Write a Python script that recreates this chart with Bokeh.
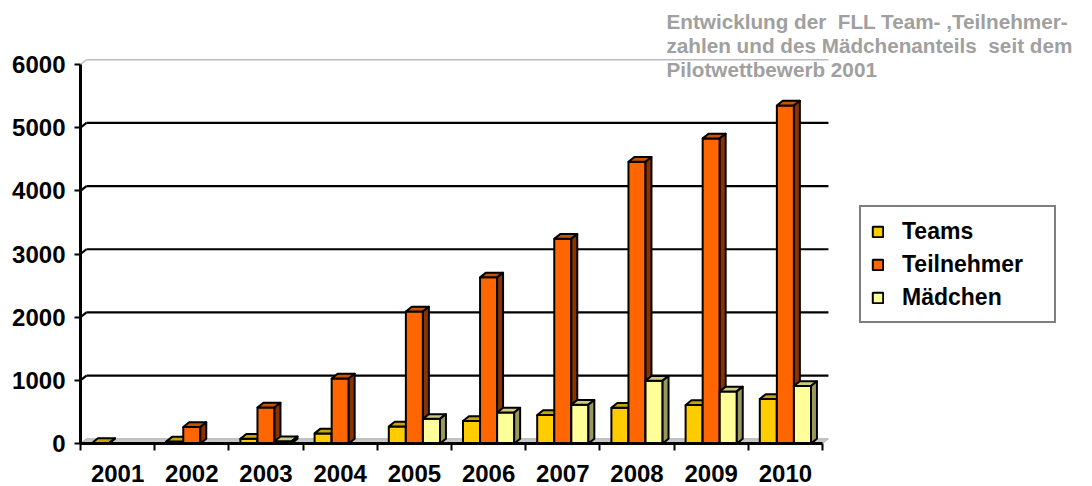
from bokeh.plotting import figure
from bokeh.models import Range1d, FixedTicker, Legend, LegendItem, Label
from bokeh.embed import file_html
from bokeh.resources import INLINE

# ---------------- data ----------------
years = ["2001", "2002", "2003", "2004", "2005", "2006", "2007", "2008", "2009", "2010"]
teams = [8, 30, 75, 160, 270, 355, 450, 565, 610, 705]
teilnehmer = [None, 260, 570, 1030, 2090, 2630, 3240, 4460, 4830, 5350]
maedchen = [None, None, 35, None, 390, 490, 615, 995, 825, 910]
series_names = ["Teams", "Teilnehmer", "Mädchen"]
y_ticks = [0, 1000, 2000, 3000, 4000, 5000, 6000]
title_lines = ["Entwicklung der \u00a0FLL Team- ,Teilnehmer-",
               "zahlen und des Mädchenanteils \u00a0seit dem",
               "Pilotwettbewerb 2001"]

# ---------------- styles ----------------
front_colors = ["#FFCC00", "#FF6600", "#FFFF99"]
top_colors = ["#CCA300", "#CC5200", "#CCCC7A"]
side_colors = ["#997A00", "#8A3300", "#99995C"]
FONT = "Liberation Sans"
BAR_W = 0.23
DX, DY = 0.08, 75.0   # pseudo-3D depth offsets (data units)

W, H = 1092, 486
LEFT, BOTTOM = 80, 43
PX_PER_CAT = 74.2
PX_PER_VAL = 379.0 / 6000.0

n = len(years)
p = figure(width=W, height=H, output_backend="svg", toolbar_location=None,
           x_range=Range1d(0, (W - LEFT) / PX_PER_CAT),
           y_range=Range1d(0, (H - BOTTOM) / PX_PER_VAL),
           min_border_left=LEFT, min_border_right=0, min_border_top=0, min_border_bottom=BOTTOM)
p.outline_line_color = None
p.grid.visible = False
p.background_fill_color = "white"
p.border_fill_color = "white"

# floor band
p.patch([0, n, n + DX, DX], [0, 0, DY, DY], fill_color="#C8C8C8", line_color="#B0B0B0", line_width=1)

# gridlines on back wall (with small diagonals to the axis)
for v in y_ticks[1:]:
    col = "#BBBBBB" if v == y_ticks[-1] else "black"
    lw = 1.5 if v == y_ticks[-1] else 2.2
    p.segment(x0=[0, DX], y0=[v, v + DY], x1=[DX, n + DX], y1=[v + DY, v + DY],
              line_color=col, line_width=lw)

# bars
series_vals = [teams, teilnehmer, maedchen]
legend_items = []
for s, vals in enumerate(series_vals):
    lefts, rights, tops = [], [], []
    for i, v in enumerate(vals):
        if v is None:
            continue
        c = i + 0.5
        l = c - 1.5 * BAR_W + s * BAR_W
        lefts.append(l)
        rights.append(l + BAR_W)
        tops.append(v)
    front = p.quad(left=lefts, right=rights, bottom=0, top=tops,
                   fill_color=front_colors[s], line_color="black", line_width=2)
    top_xs = [[l, r, r + DX, l + DX] for l, r in zip(lefts, rights)]
    top_ys = [[t, t, t + DY, t + DY] for t in tops]
    p.patches(top_xs, top_ys, fill_color=top_colors[s], line_color="black", line_width=2,
              line_join="round")
    side_xs = [[r, r + DX, r + DX, r] for r in rights]
    side_ys = [[0, DY, t + DY, t] for t in tops]
    p.patches(side_xs, side_ys, fill_color=side_colors[s], line_color="black", line_width=2,
              line_join="round")
    legend_items.append(LegendItem(label=series_names[s], renderers=[front]))

# axes
xa = p.xaxis[0]
xa.bounds = (0, n)
xa.ticker = FixedTicker(ticks=[i + 0.5 for i in range(n)], minor_ticks=list(range(n + 1)))
xa.major_label_overrides = {i + 0.5: y for i, y in enumerate(years)}
xa.axis_line_width = 3
xa.axis_line_color = "black"
xa.major_tick_line_color = None
xa.major_tick_out = 0
xa.major_tick_in = 0
xa.minor_tick_out = 7
xa.minor_tick_in = 0
xa.minor_tick_line_width = 2
xa.minor_tick_line_color = "black"
xa.major_label_text_font = FONT
xa.major_label_text_font_size = "24px"
xa.major_label_text_font_style = "bold"
xa.major_label_text_color = "black"
xa.major_label_standoff = 14

ya = p.yaxis[0]
ya.bounds = (0, 6000)
ya.ticker = FixedTicker(ticks=y_ticks, minor_ticks=[])
ya.axis_line_width = 3
ya.axis_line_color = "black"
ya.major_tick_out = 6
ya.major_tick_in = 0
ya.major_tick_line_width = 2
ya.major_tick_line_color = "black"
ya.minor_tick_line_color = None
ya.major_label_text_font = FONT
ya.major_label_text_font_size = "24px"
ya.major_label_text_font_style = "bold"
ya.major_label_text_color = "black"
ya.major_label_standoff = 9

# legend
legend = Legend(items=legend_items, location=(779, 120))
legend.border_line_color = "black"
legend.border_line_width = 2
legend.background_fill_color = "white"
legend.background_fill_alpha = 1
legend.label_text_font = FONT
legend.label_text_font_size = "23px"
legend.label_text_font_style = "bold"
legend.label_text_color = "black"
legend.glyph_width = 13
legend.glyph_height = 13
legend.label_standoff = 18
legend.label_width = 142
legend.label_height = 28
legend.padding = 10
legend.spacing = 5
legend.margin = 0
p.add_layout(legend)

# title block (top right)
for k, line in enumerate(title_lines):
    p.add_layout(Label(x=586, y=433.5 - k * 24, x_units="screen", y_units="screen", text=line,
                       text_font=FONT, text_font_size="20.7px", text_font_style="bold",
                       text_color="#A0A0A0", text_align="left", text_baseline="top"))

open("out.html", "w").write(file_html(p, INLINE))
